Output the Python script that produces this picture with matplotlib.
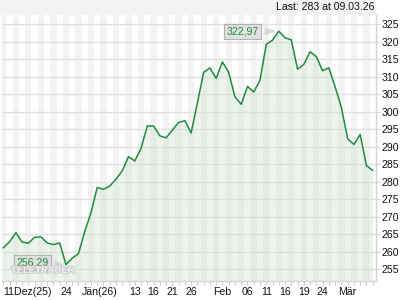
import matplotlib
matplotlib.use("Agg")
import matplotlib.pyplot as plt
import matplotlib.patheffects as pe
from matplotlib.patches import Rectangle
from matplotlib.transforms import blended_transform_factory

plt.rcParams['font.family'] = ['Liberation Sans', 'DejaVu Sans']

# trading days 10.12.25 .. 06.03.26
dates = ["10.12", "11.12", "12.12", "15.12", "16.12", "17.12", "18.12", "19.12", "22.12", "23.12",
         "24.12", "29.12", "30.12", "31.12",
         "02.01", "05.01", "06.01", "07.01", "08.01", "09.01", "12.01", "13.01", "14.01", "15.01",
         "16.01", "19.01", "20.01", "21.01", "22.01", "23.01", "26.01", "27.01", "28.01", "29.01", "30.01",
         "02.02", "03.02", "04.02", "05.02", "06.02", "09.02", "10.02", "11.02", "12.02", "13.02",
         "16.02", "17.02", "18.02", "19.02", "20.02", "23.02", "24.02", "25.02", "26.02", "27.02",
         "02.03", "03.03", "04.03", "05.03", "06.03"]
prices = [261.1, 262.8, 265.4, 262.7, 262.4, 264.1, 264.2, 262.5, 262.0, 262.5,
          256.29, 258.1, 259.4, 265.7,
          271.1, 278.3, 277.8, 278.7, 280.7, 283.1, 287.1, 285.9, 289.5, 295.9,
          295.9, 293.1, 292.5, 294.7, 296.9, 297.4, 293.9, 302.5, 311.2, 312.5, 309.5,
          314.2, 311.2, 304.2, 302.1, 307.2, 305.6, 309.0, 319.2, 320.4, 322.97,
          321.1, 320.5, 312.1, 313.5, 317.1, 315.7, 311.7, 312.5, 307.1, 301.2,
          292.3, 290.6, 293.5, 284.6, 283.2]

# x axis labels: (text, day index)
xlabels = [("11Dez(25)", 0.05), ("24", 10), ("J\u00e4n(26)", 15.4), ("13", 21), ("16", 24),
           ("21", 27), ("26", 30), ("Feb", 35), ("06", 39), ("11", 42), ("16", 45),
           ("19", 48), ("24", 51), ("M\u00e4r", 55)]
yticks = [255, 260, 265, 270, 275, 280, 285, 290, 295, 300, 305, 310, 315, 320, 325]

hi_label = "322,97"
lo_label = "256,29"
last_text = "Last: 283 at 09.03.26"

green = "#1e8c3c"
x = list(range(len(prices)))

fig = plt.figure(figsize=(4.2, 3.0), dpi=100)
fig.patch.set_facecolor("white")
ax = fig.add_axes([2 / 420, 19 / 300, 373.5 / 420, 266 / 300])
ax.set_facecolor("white")

# header band
fig.patches.append(Rectangle((0, 285 / 300), 376 / 420, 15 / 300, transform=fig.transFigure,
                             facecolor="#f3f3f3", edgecolor="none", zorder=0))
fig.text(374 / 420, 292.5 / 300, last_text, ha="right", va="center", fontsize=7.6, color="#111111")

# vertical day stripes
for i in range(-1, len(prices) + 1):
    if i % 2 == 0:
        ax.axvspan(i - 0.5, i + 0.5, color="#f3f3f3", lw=0, zorder=0)

ax.set_xlim(-0.21, 59.45)
ax.set_ylim(251.6, 327.6)

# grid
ax.set_yticks(yticks)
ax.grid(axis="y", color="#e0e0e0", lw=1, zorder=1)

ax.fill_between(x, prices, 240, color="#cfe3cf", alpha=0.38, lw=0, zorder=2)
ax.plot(x, prices, color=green, lw=1.1, zorder=3)

# borders
for s in ["top", "left"]:
    ax.spines[s].set_visible(False)
for s in ["bottom", "right"]:
    ax.spines[s].set_color("#d4d4d4")
    ax.spines[s].set_linewidth(1)

ax.yaxis.tick_right()
ax.tick_params(axis="y", length=3, color="#d8d8d8", pad=1.5, labelsize=7.6, labelcolor="#111111")
ax.set_xticks(x)
ax.set_xticklabels([])
ax.tick_params(axis="x", length=3, color="#cccccc", width=0.8)

trans = blended_transform_factory(ax.transData, ax.transAxes)
for txt, pos in xlabels:
    ha = "left" if txt.startswith("11Dez") else "center"
    ax.text(pos, -0.04, txt, transform=trans, ha=ha, va="center", fontsize=7.6, color="#111111",
            clip_on=False)

# high / low labels
i_hi = prices.index(max(prices))
i_lo = prices.index(min(prices))
box = dict(boxstyle="square,pad=0.25", fc="#dcdcdc", ec="#a8a8a8", lw=0.8, alpha=0.85)
wedge = dict(arrowstyle="wedge,tail_width=0.7,shrink_factor=0.5", fc="#d4d4d4", ec="none", alpha=0.9)
ax.annotate(hi_label, xy=(i_hi, prices[i_hi]), xytext=(-26, 0), textcoords="offset points",
            ha="center", va="center", fontsize=7.6, color=green, bbox=box, arrowprops=wedge, zorder=5)
ax.annotate(lo_label, xy=(i_lo, prices[i_lo]), xytext=(-24, 1.5), textcoords="offset points",
            ha="center", va="center", fontsize=7.6, color=green, bbox=box, arrowprops=wedge, zorder=5)

# watermark, drawn over the low label like in the original
ax.text(0.024, 0.04, "TELETRADER", transform=ax.transAxes, fontsize=6.8, fontweight="bold",
        color="#f4f4f4", ha="left", va="center", zorder=6,
        path_effects=[pe.withStroke(linewidth=1.1, foreground="#c4c4c4")])

fig.savefig("out.png", dpi=100)
